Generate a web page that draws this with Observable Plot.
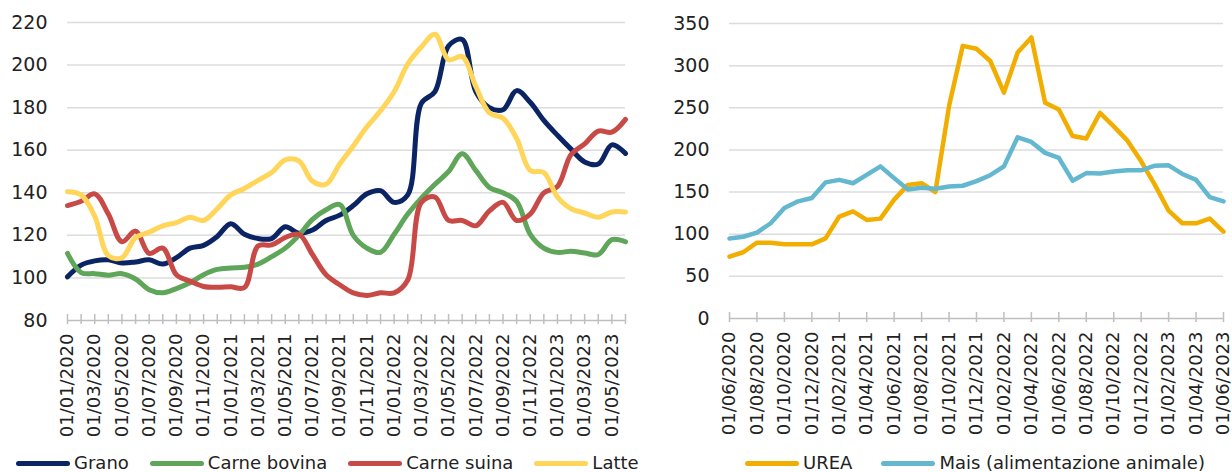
<!DOCTYPE html>
<html>
<head>
<meta charset="utf-8">
<script src="https://cdn.jsdelivr.net/npm/d3@7"></script>
<script src="https://cdn.jsdelivr.net/npm/@observablehq/plot@0.6"></script>
<style>
  body { margin: 0; background: #fff; width: 1232px; height: 472px; overflow: hidden; position: relative;
         font-family: "DejaVu Sans", sans-serif; color: #222; }
  .panel { position: absolute; top: 0; }
  .legend { position: absolute; top: 452px; display: flex; align-items: center; font-size: 18px;
            line-height: 22px; white-space: nowrap; }
  .item { display: flex; align-items: center; margin-right: 21px; }
  #legendRight .item { margin-right: 29px; }
  .sw { width: 54px; height: 5px; border-radius: 3px; margin-right: 4px; }
</style>
</head>
<body>
<div id="left" class="panel" style="left:0"></div>
<div id="right" class="panel" style="left:660px"></div>
<div id="legendLeft" class="legend" style="left:16px"></div>
<div id="legendRight" class="legend" style="left:745px"></div>
<script>
// Monthly index numbers, January 2020 = 100 (left) and June 2020 = 100 (right)
const leftMonths = d3.utcMonth.range(new Date(Date.UTC(2020, 0, 1)), new Date(Date.UTC(2023, 6, 1)));
const rightMonths = d3.utcMonth.range(new Date(Date.UTC(2020, 5, 1)), new Date(Date.UTC(2023, 6, 1)));
const fmt = d3.utcFormat("%d/%m/%Y");

const grano = [100.5, 106, 108, 108.5, 107, 107.5, 108.5, 106.5, 109.5, 114, 115.3, 119.5,
  125.5, 120.5, 118.5, 118.5, 124, 121, 122.5, 127, 129.5, 134, 139.5, 141,
  135.5, 139, 182, 187.5, 209, 212, 187.5, 180, 179, 188, 182.5, 174,
  167, 160.5, 154.5, 153.5, 162.5, 158.5];
const carneBovina = [111.5, 102.5, 102, 101.3, 102, 99.5, 94.5, 93, 95, 97.7, 101.5, 104,
  104.7, 105, 106.5, 110, 114, 120, 127.5, 132, 134.5, 120, 114, 112,
  120.5, 130, 137.5, 144, 150, 158.3, 150.5, 142.5, 140, 136, 120.5, 114,
  112, 112.5, 111.7, 111, 118, 117];
const carneSuina = [134, 136, 139.5, 130, 117, 122, 111.5, 114, 101.5, 98.5, 96, 95.6,
  95.8, 95.5, 115, 115.5, 119, 120.5, 111, 101.5, 96.8, 93, 91.8, 93,
  93, 99, 135.5, 138, 127, 127, 124.5, 131.5, 135.5, 127, 130, 140,
  143, 158, 163, 169, 168.5, 174.5];
const latte = [140.5, 139, 129, 110.5, 109.5, 119, 121.5, 124.5, 126, 128.5, 127, 132.5,
  139, 142, 145.8, 149.5, 155.5, 155, 145.5, 144, 153.5, 162, 171, 178.5,
  187.5, 200.5, 208.5, 214.5, 202.5, 204, 190, 177.5, 175, 165.5, 150.5, 149.5,
  138, 132.5, 130.5, 128.5, 131, 131];

const urea = [73.4, 78.6, 90, 90, 88, 88, 88, 95, 121, 127, 117, 118.5,
  141, 158.5, 160.5, 150, 252, 323.5, 320, 305.5, 268, 315.5, 333.5, 256,
  248, 216.5, 213.5, 244, 228, 211, 186.5, 158.5, 128, 113, 113, 118.5, 103];
const mais = [95, 97, 102, 113, 131, 139, 143, 161.5, 164.5, 160.5, 170.5, 180.5,
  166.5, 153, 155, 154, 156.5, 157.5, 163, 170, 180.5, 215, 209.5, 196.5,
  190.5, 163.5, 172.5, 172, 174.5, 175.8, 175.8, 181.3, 181.7, 171.5, 164.5, 144, 139];

const leftYTicks = [80, 100, 120, 140, 160, 180, 200, 220];
const rightYTicks = [0, 50, 100, 150, 200, 250, 300, 350];

const leftSeries = [
  {name: "Grano", values: grano, color: "#0b2463"},
  {name: "Carne bovina", values: carneBovina, color: "#5fa55a"},
  {name: "Carne suina", values: carneSuina, color: "#c84a47"},
  {name: "Latte", values: latte, color: "#ffd55a"}
];
const rightSeries = [
  {name: "UREA", values: urea, color: "#f2ae00"},
  {name: "Mais (alimentazione animale)", values: mais, color: "#63b7cf"}
];

function panel({months, series, yTicks, minorEvery, width, marginLeft, marginRight, marginTop, plotBottom, curve, strokeWidth}) {
  const height = 448;
  const marginBottom = height - plotBottom;
  const labels = months.map(fmt);
  const idx = months.map((d, i) => i);
  const labelled = idx.filter(i => i % 2 === 0);
  const tickIdx = idx.filter(i => i % minorEvery === 0);
  const y0 = yTicks[0];
  return Plot.plot({
    width, height, marginLeft, marginRight, marginTop, marginBottom,
    style: {background: "white", color: "#222", fontFamily: "DejaVu Sans, sans-serif", fontSize: "19px", overflow: "visible"},
    x: {type: "linear", domain: [0, months.length - 1]},
    y: {domain: [y0, yTicks[yTicks.length - 1]]},
    marks: [
      Plot.ruleY(yTicks.slice(1), {stroke: "#dcdcdc", strokeWidth: 1.5}),
      Plot.ruleY([y0], {stroke: "#bfbfbf", strokeWidth: 1.5}),
      Plot.ruleX(tickIdx, {x: d => d, y1: y0, y2: y0, insetTop: -6, insetBottom: -4, stroke: "#bfbfbf", strokeWidth: 1.5}),
      Plot.axisY(yTicks, {tickSize: 0, tickPadding: 20, fontSize: 19}),
      Plot.axisX(labelled, {tickSize: 0, tickPadding: 13, tickRotate: -90, fontSize: 18,
        tickFormat: i => labels[i]}),
      ...series.map(s => Plot.lineY(s.values, {
        x: (d, i) => i, y: d => d, stroke: s.color, strokeWidth,
        curve, strokeLinejoin: "round", strokeLinecap: "round"
      }))
    ]
  });
}

function legend(el, series) {
  for (const s of series) {
    const item = document.createElement("div");
    item.className = "item";
    const sw = document.createElement("div");
    sw.className = "sw";
    sw.style.background = s.color;
    const t = document.createElement("span");
    t.textContent = s.name;
    item.append(sw, t);
    el.append(item);
  }
}

document.getElementById("left").append(panel({
  months: leftMonths, series: leftSeries, yTicks: leftYTicks, minorEvery: 1,
  width: 640, marginLeft: 67, marginRight: 15, marginTop: 22, plotBottom: 320,
  curve: "catmull-rom", strokeWidth: 5
}));
document.getElementById("right").append(panel({
  months: rightMonths, series: rightSeries, yTicks: rightYTicks, minorEvery: 2,
  width: 572, marginLeft: 69, marginRight: 9, marginTop: 23, plotBottom: 318,
  curve: "linear", strokeWidth: 4.5
}));
legend(document.getElementById("legendLeft"), leftSeries);
legend(document.getElementById("legendRight"), rightSeries);
</script>
</body>
</html>
